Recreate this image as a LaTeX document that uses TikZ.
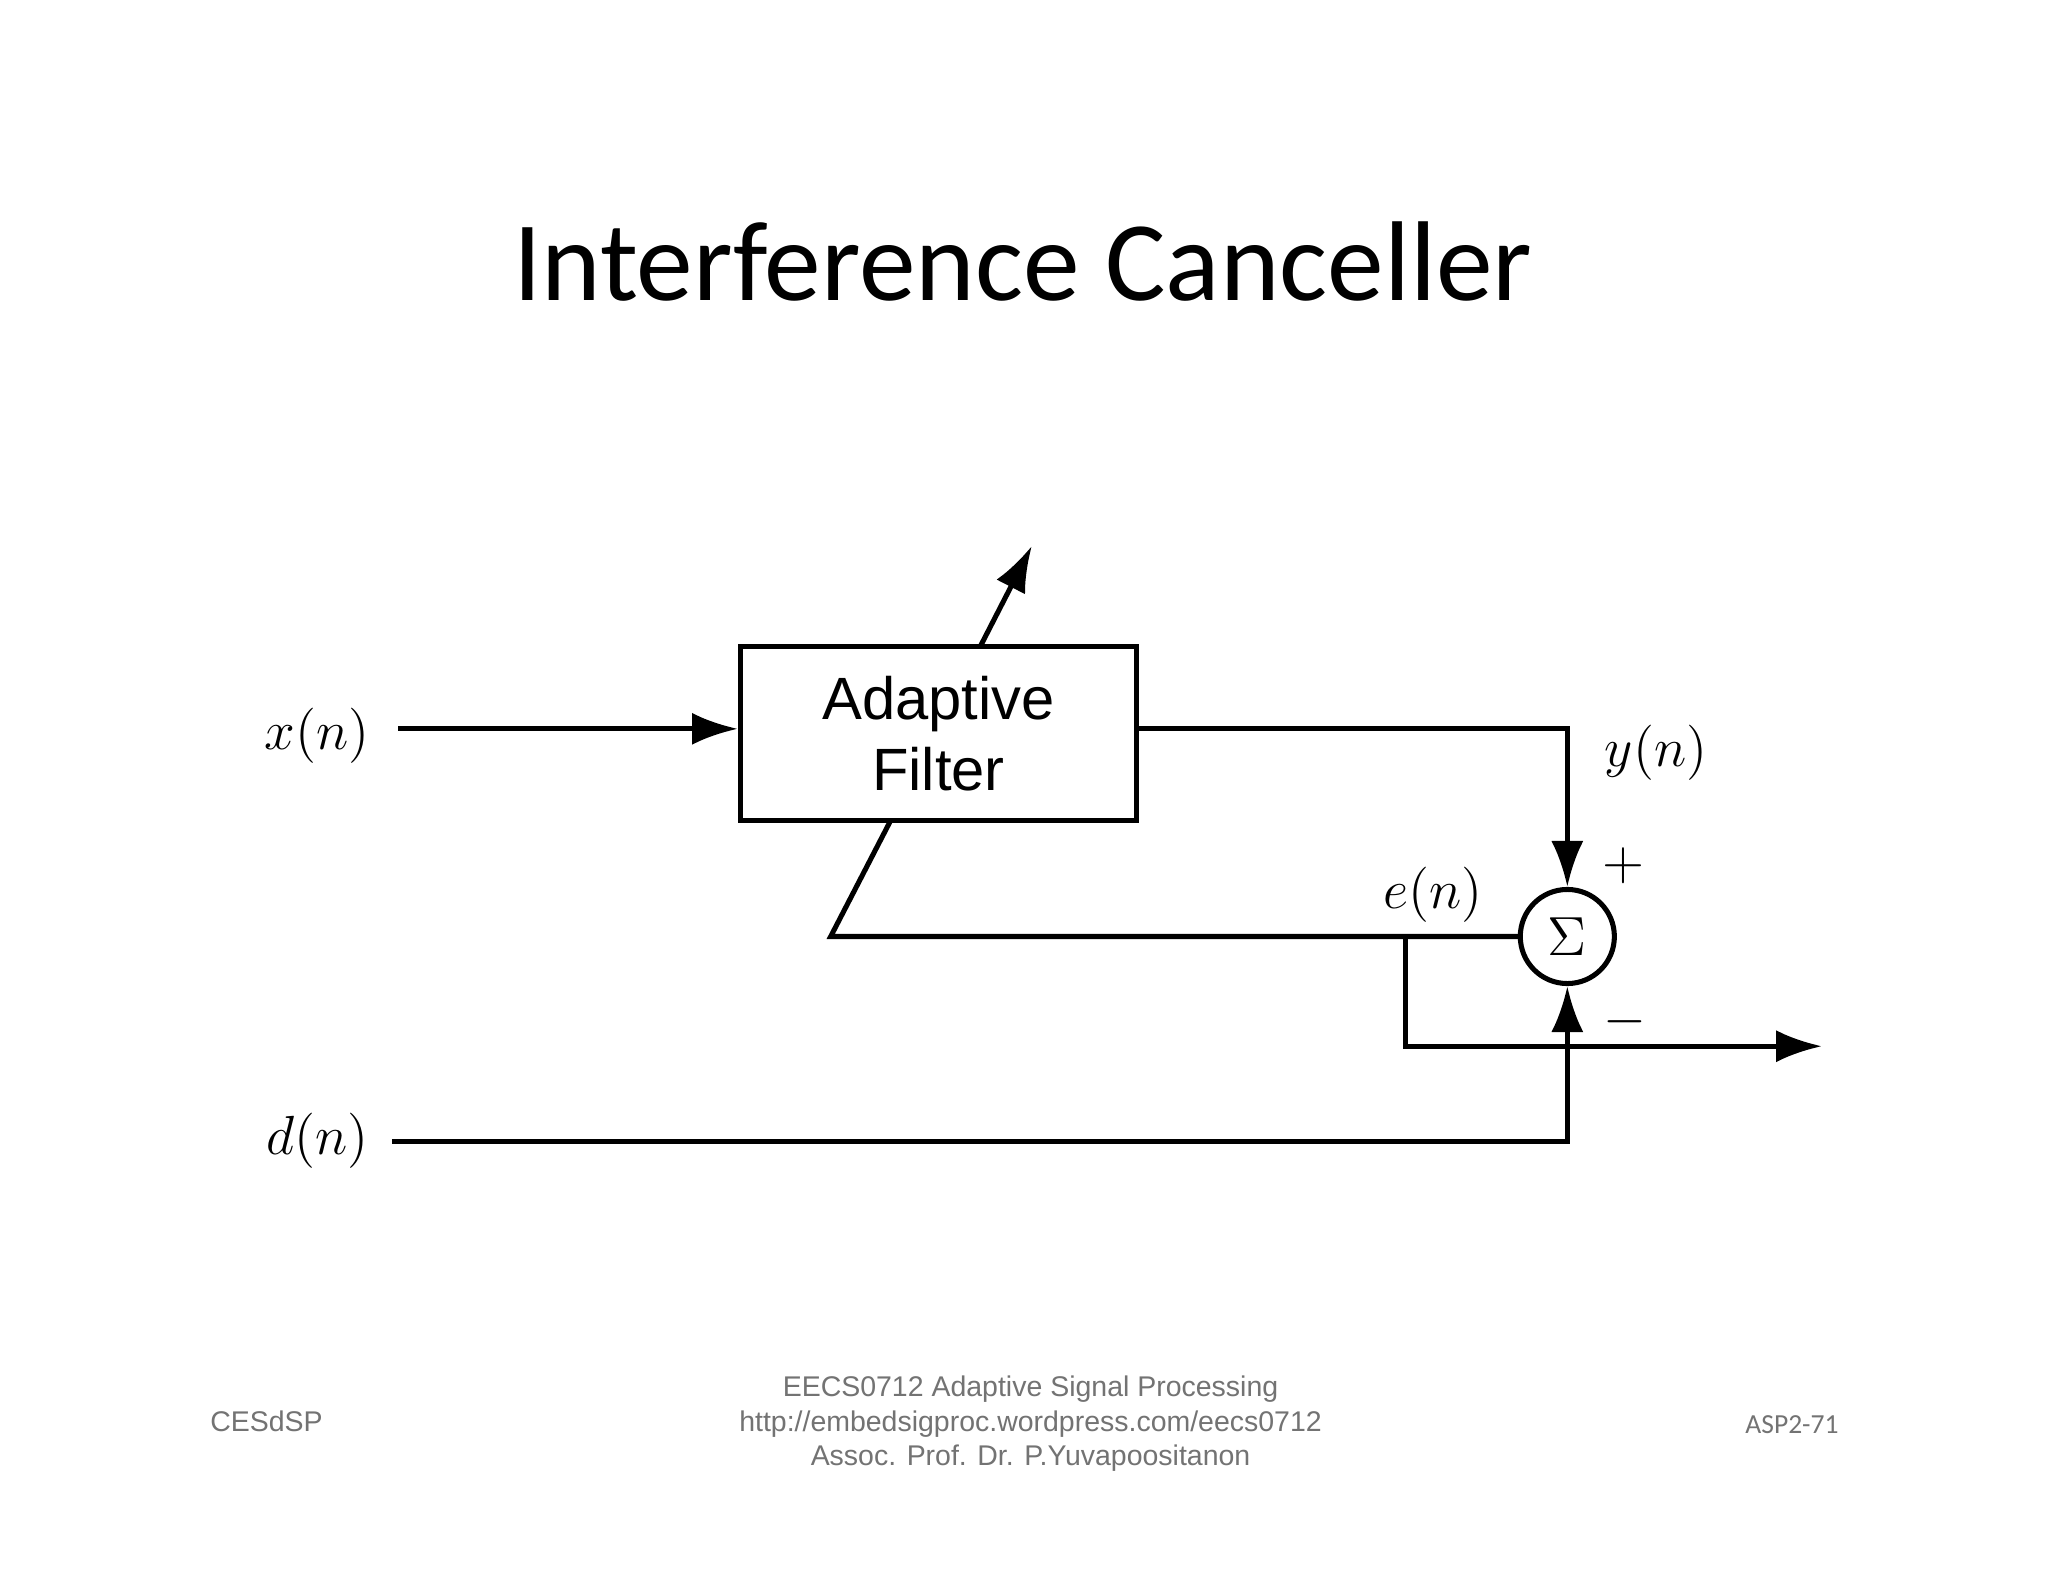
\documentclass[tikz,border=0pt]{standalone}
\usepackage{fontspec}
\setmainfont{Carlito}
\newfontfamily\arial{Liberation Sans}
\usetikzlibrary{arrows.meta}
\begin{document}
\begin{tikzpicture}[x=0.01cm,y=-0.01cm,
  wire/.style={line width=1.1pt},
  arr/.style={wire,-{Latex[length=10pt,width=7pt]}},
  lbl/.style={font=\fontsize{13}{13}\selectfont},
  foot/.style={font=\arial\fontsize{6.2}{7.5}\selectfont,text=black!55,align=center}]
\useasboundingbox[fill=white] (0,0) rectangle (1568,1211);
\node[font=\fontsize{24.7}{30}\selectfont] (title) at (783,200) {Interference Canceller};
\node[draw,wire,minimum width=3.03cm,minimum height=1.33cm,align=center,
  font=\arial\fontsize{13}{15.5}\selectfont] (af) at (718.5,561.5) {Adaptive\\Filter};
\node[draw,wire,circle,minimum size=0.72cm,inner sep=0pt] (sum) at (1200,717) {\large$\Sigma$};
\node[lbl] (x) at (243,563) {$x(n)$};
\node[lbl] (y) at (1268,576) {$y(n)$};
\node[lbl] (e) at (1097,685) {$e(n)$};
\node[lbl] (d) at (243,873) {$d(n)$};
\node[lbl] (p) at (1243,663) {$+$};
\node[lbl] (m) at (1244,782) {$-$};
\coordinate (xs) at (305,558);
\coordinate (ys) at (870,558);
\coordinate (yc) at (1200,558);
\coordinate (fb1) at (636,717);
\coordinate (fb2) at (682,628);
\coordinate (ad1) at (751,494);
\coordinate (ad2) at (790,418);
\coordinate (o1) at (1076,717);
\coordinate (o2) at (1076,801);
\coordinate (o3) at (1395,801);
\coordinate (ds) at (300,874);
\coordinate (dc) at (1200,874);
\draw[arr] (xs) -- (af.west |- xs);
\draw[arr] (ys) -- (yc) -- (sum.north);
\draw[wire] (sum.west) -- (fb1) -- (fb2);
\draw[arr] (ad1) -- (ad2);
\draw[arr] (o1) -- (o2) -- (o3);
\draw[arr] (ds) -- (dc) -- (sum.south);
\node[foot] (f1) at (204,1088) {CESdSP};
\node[foot,font=\arial\fontsize{6.2}{7.6}\selectfont] (f2) at (789,1090) {EECS0712 Adaptive Signal Processing\\http://embedsigproc.wordpress.com/eecs0712\\Assoc. Prof. Dr. P.Yuvapoositanon};
\node[foot,font=\fontsize{6}{7}\selectfont] (f3) at (1372,1091) {ASP2-71};
\end{tikzpicture}
\end{document}
